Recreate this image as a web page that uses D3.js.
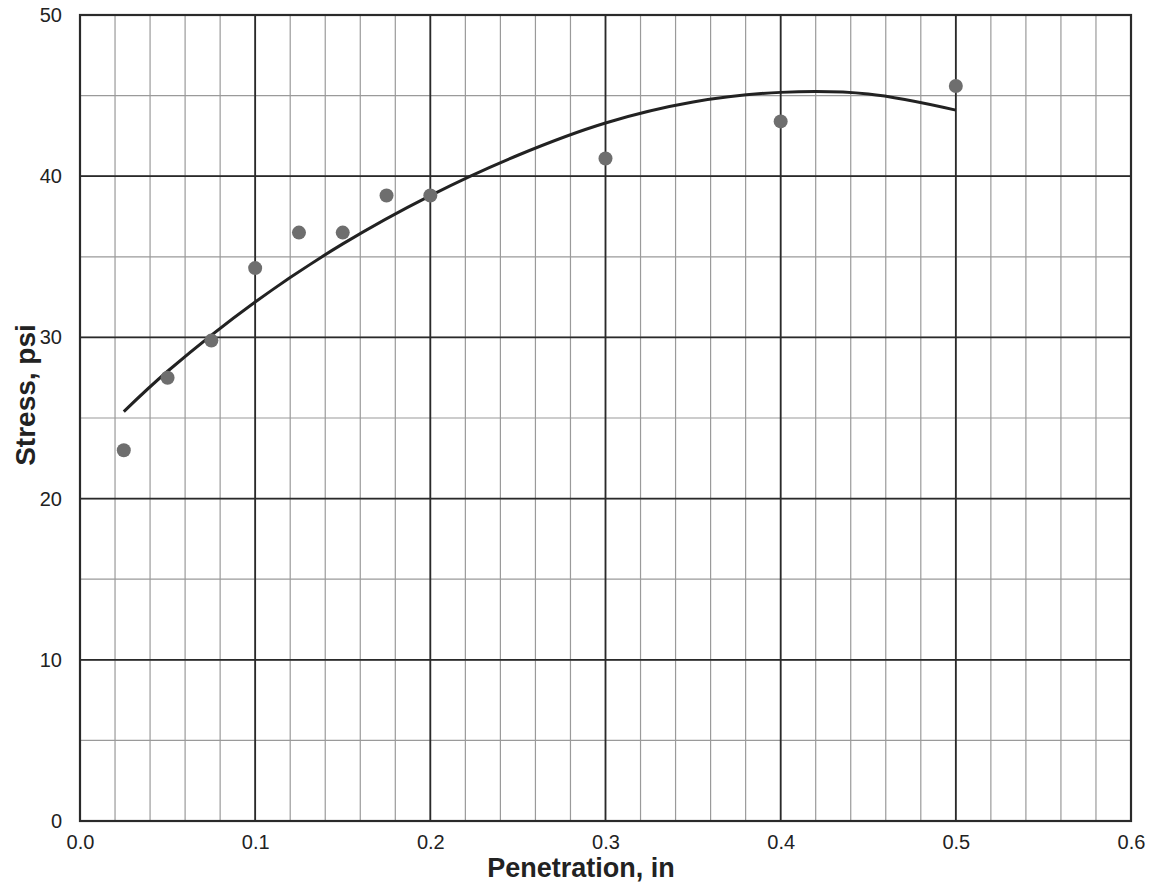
<!DOCTYPE html>
<html><head><meta charset="utf-8">
<script src="https://cdn.jsdelivr.net/npm/d3@7"></script>
<style>body{margin:0;background:#fff;} svg{display:block;font-family:"Liberation Sans",Arial,sans-serif;}</style>
</head><body>
<svg id="c" width="1155" height="883"></svg>
<script>
const penetration = [0.025, 0.05, 0.075, 0.1, 0.125, 0.15, 0.175, 0.2, 0.3, 0.4, 0.5];
const stress = [23.0, 27.5, 29.8, 34.3, 36.5, 36.5, 38.8, 38.8, 41.1, 43.4, 45.6];
const fitX = [0.025, 0.05, 0.1, 0.15, 0.2, 0.25, 0.3, 0.35, 0.4, 0.45, 0.5];
const fitY = [25.4, 27.9, 32.2, 35.8, 38.8, 41.3, 43.3, 44.6, 45.2, 45.1, 44.1];
const xTicks = [0, 0.1, 0.2, 0.3, 0.4, 0.5, 0.6];
const yTicks = [0, 10, 20, 30, 40, 50];

const svg = d3.select("#c");
const L = 80, R = 1131, T = 15, B = 821;
const x = d3.scaleLinear().domain([0, 0.6]).range([L, R]);
const y = d3.scaleLinear().domain([0, 50]).range([B, T]);

// minor grid
const xMinor = d3.range(0, 0.6001, 0.02);
const yMinor = d3.range(0, 50.001, 5);
svg.append("g").selectAll("line").data(xMinor).join("line")
  .attr("x1", d => x(d)).attr("x2", d => x(d)).attr("y1", T).attr("y2", B)
  .attr("stroke", "#9a9a9a").attr("stroke-width", 1.2);
svg.append("g").selectAll("line").data(yMinor).join("line")
  .attr("y1", d => y(d)).attr("y2", d => y(d)).attr("x1", L).attr("x2", R)
  .attr("stroke", "#9a9a9a").attr("stroke-width", 1.2);
// major grid
svg.append("g").selectAll("line").data(xTicks).join("line")
  .attr("x1", d => x(d)).attr("x2", d => x(d)).attr("y1", T).attr("y2", B)
  .attr("stroke", "#2a2a2a").attr("stroke-width", 1.8);
svg.append("g").selectAll("line").data(yTicks).join("line")
  .attr("y1", d => y(d)).attr("y2", d => y(d)).attr("x1", L).attr("x2", R)
  .attr("stroke", "#2a2a2a").attr("stroke-width", 1.8);
svg.append("rect").attr("x", L).attr("y", T).attr("width", R - L).attr("height", B - T)
  .attr("fill", "none").attr("stroke", "#2a2a2a").attr("stroke-width", 2.2);

// axes labels via d3 axes
const xAxis = svg.append("g").attr("transform", `translate(0,${B})`)
  .call(d3.axisBottom(x).tickValues(xTicks).tickFormat(d3.format(".1f")).tickSize(0).tickPadding(14));
const yAxis = svg.append("g").attr("transform", `translate(${L},0)`)
  .call(d3.axisLeft(y).tickValues(yTicks).tickFormat(d3.format("d")).tickSize(0).tickPadding(18));
[xAxis, yAxis].forEach(a => {
  a.select(".domain").remove();
  a.selectAll("text").attr("font-size", 20).attr("fill", "#222")
    .attr("font-family", "'Liberation Sans',Arial,sans-serif");
});

// fitted curve
const line = d3.line().x((d, i) => x(fitX[i])).y(d => y(d)).curve(d3.curveCatmullRom.alpha(0.5));
svg.append("path").datum(fitY).attr("d", line)
  .attr("fill", "none").attr("stroke", "#222").attr("stroke-width", 3);

// points
svg.append("g").selectAll("circle").data(stress).join("circle")
  .attr("cx", (d, i) => x(penetration[i])).attr("cy", d => y(d)).attr("r", 7)
  .attr("fill", "#6e6e6e");

// titles
svg.append("text").attr("x", 581).attr("y", 877).attr("text-anchor", "middle")
  .attr("font-size", 27).attr("font-weight", "bold").attr("fill", "#222").text("Penetration, in");
svg.append("text").attr("transform", `translate(35,395) rotate(-90)`)
  .attr("text-anchor", "middle").attr("font-size", 28).attr("font-weight", "bold")
  .attr("fill", "#222").text("Stress, psi");
</script>
</body></html>
